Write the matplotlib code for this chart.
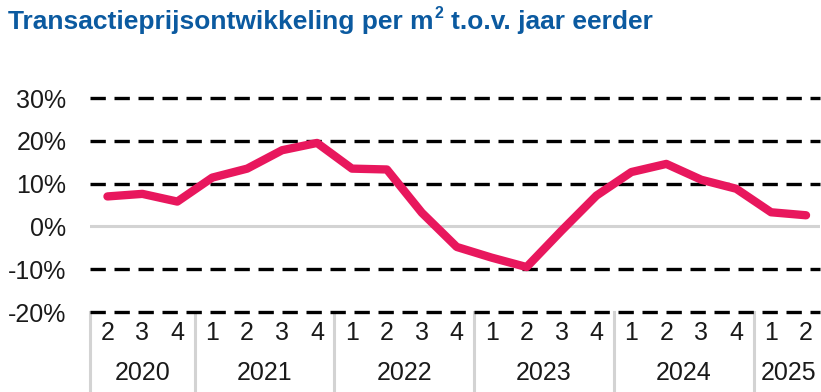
import matplotlib
matplotlib.use("Agg")
import matplotlib.pyplot as plt
import matplotlib.transforms as mtransforms

# data: year-on-year change of transaction price per m2, 2020Q2 .. 2025Q2
quarters = [2, 3, 4, 1, 2, 3, 4, 1, 2, 3, 4, 1, 2, 3, 4, 1, 2, 3, 4, 1, 2]
years = ["2020", "2021", "2022", "2023", "2024", "2025"]
year_counts = [3, 4, 4, 4, 4, 2]
values = [7.0, 7.6, 5.8, 11.4, 13.5, 17.8, 19.5, 13.5, 13.3, 3.2, -4.8,
          -7.3, -9.5, -1.0, 7.2, 12.7, 14.6, 10.9, 8.8, 3.3, 2.6]
yticks = [-20, -10, 0, 10, 20, 30]

W, H = 821, 392
fig = plt.figure(figsize=(W / 100, H / 100), dpi=100)
ax = fig.add_axes([90 / W, 1 - 312 / H, (820 - 90) / W, (312 - 98) / H])

x = list(range(len(values)))

# gridlines
for t in yticks:
    if t == 0:
        ax.axhline(t, color="#d3d3d3", lw=2.2, zorder=1)
    else:
        ax.axhline(t, color="black", lw=2.4, linestyle=(0, (4.6, 2.6)), zorder=1, clip_on=False)

ax.plot(x, values, color="#e8175d", lw=6, solid_joinstyle="round", solid_capstyle="round", zorder=3)

ax.set_xlim(-0.5, 20.4)
ax.set_ylim(-20, 30)
ax.set_yticks(yticks)
ax.set_yticklabels([f"{t}%" for t in yticks], fontsize=18, family="Liberation Sans", color="#1a1a1a")
ax.tick_params(axis="y", length=0, pad=17)
ax.set_xticks([])
for s in ax.spines.values():
    s.set_visible(False)

# two-level category axis
trans = mtransforms.blended_transform_factory(ax.transData, ax.transAxes)
for i, q in enumerate(quarters):
    ax.text(i, -0.1, str(q), transform=trans, ha="center", va="center",
            fontsize=18, family="Liberation Sans", color="#1a1a1a")
start = 0
bounds = [-0.5]
for yr, n in zip(years, year_counts):
    mid = start + (n - 1) / 2
    ax.text(mid, -0.285, yr, transform=trans, ha="center", va="center",
            fontsize=18, family="Liberation Sans", color="#1a1a1a")
    start += n
    bounds.append(start - 0.5)
for b in bounds[:-1]:
    ax.plot([b, b], [0, -0.365], transform=trans, color="#d3d3d3", lw=2.2,
            clip_on=False, zorder=0)

# title with superscript
tfam = "Liberation Sans"
tcol = "#0b5aa0"
t1 = fig.text(8 / W, 1 - 22 / H, "Transactieprijsontwikkeling per m", fontsize=19,
              fontweight="bold", family=tfam, color=tcol, va="center", ha="left")
r = fig.canvas.get_renderer()
bb = t1.get_window_extent(r)
t2 = fig.text(bb.x1 / W + 1 / W, 1 - 13 / H, "2", fontsize=11.5, fontweight="bold",
              family=tfam, color=tcol, va="center", ha="left")
bb2 = t2.get_window_extent(r)
fig.text(bb2.x1 / W + 8 / W, 1 - 22 / H, "t.o.v. jaar eerder", fontsize=19,
         fontweight="bold", family=tfam, color=tcol, va="center", ha="left")

fig.savefig("out.png", dpi=100)
